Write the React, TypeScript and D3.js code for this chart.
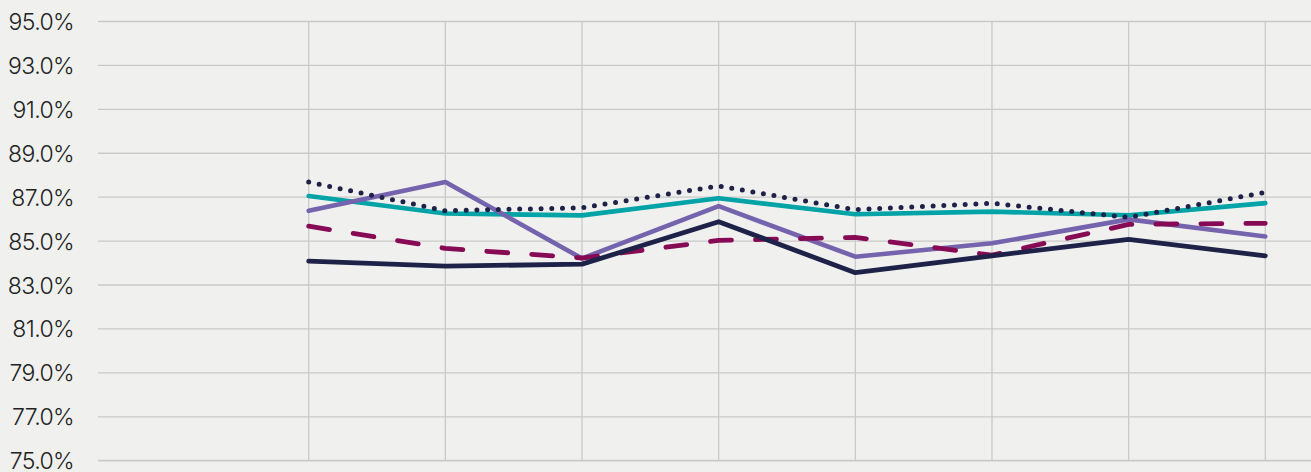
import React from "react";
import * as d3 from "d3";

const categories = ["P1", "P2", "P3", "P4", "P5", "P6", "P7", "P8"];
const yTicks = [75, 77, 79, 81, 83, 85, 87, 89, 91, 93, 95];

const seriesDotted = [87.69, 86.38, 86.52, 87.51, 86.43, 86.72, 86.08, 87.22];
const seriesTeal = [87.05, 86.26, 86.17, 86.95, 86.22, 86.34, 86.18, 86.73];
const seriesPurple = [86.38, 87.69, 84.21, 86.59, 84.29, 84.9, 85.99, 85.21];
const seriesDashed = [85.68, 84.67, 84.23, 85.03, 85.17, 84.36, 85.76, 85.81];
const seriesNavy = [84.09, 83.86, 83.95, 85.88, 83.56, 84.33, 85.08, 84.33];

const W = 1311;
const H = 472;

export default function App() {
  const x = d3.scalePoint<string>().domain(categories).range([308.7, 1265.3]);
  const y = d3.scaleLinear().domain([75, 95]).range([460.7, 21.5]);
  const line = d3
    .line<number>()
    .x((_, i) => x(categories[i]) as number)
    .y((d) => y(d));

  const series = [
    { data: seriesTeal, color: "#00a3a6", width: 4.6, dash: undefined as string | undefined },
    { data: seriesPurple, color: "#7563ad", width: 4.6, dash: undefined },
    { data: seriesDashed, color: "#870a55", width: 4.8, dash: "21 24" },
    { data: seriesNavy, color: "#1e2249", width: 4.8, dash: undefined },
    { data: seriesDotted, color: "#1e2249", width: 5, dash: "0 10.7" },
  ];

  return (
    <svg
      width={W}
      height={H}
      style={{ position: "absolute", left: 0, top: 0, display: "block", background: "#f0f1ef" }}
    >
      <rect x={0} y={0} width={W} height={H} fill="#f0f1ef" />
      {yTicks.map((t) => (
        <line
          key={"h" + t}
          x1={98}
          x2={W}
          y1={y(t)}
          y2={y(t)}
          stroke="#c9c9c9"
          strokeWidth={t === 75 ? 1.8 : 1.3}
        />
      ))}
      {categories.map((c) => (
        <line
          key={"v" + c}
          x1={x(c)}
          x2={x(c)}
          y1={y(95)}
          y2={y(75)}
          stroke="#cacaca"
          strokeWidth={1.3}
        />
      ))}
      {yTicks.map((t) => (
        <text
          key={"l" + t}
          x={74}
          y={y(t) + 8.5}
          textAnchor="end"
          fontFamily="Inter, 'Noto Sans', sans-serif"
          fontWeight={300}
          fontSize={23}
          letterSpacing={-0.6}
          fill="#222222"
        >
          {t.toFixed(1) + "%"}
        </text>
      ))}
      {series.map((s, i) => (
        <path
          key={"s" + i}
          d={line(s.data) || ""}
          fill="none"
          stroke={s.color}
          strokeWidth={s.width}
          strokeDasharray={s.dash}
          strokeLinecap="round"
          strokeLinejoin="round"
        />
      ))}
    </svg>
  );
}
